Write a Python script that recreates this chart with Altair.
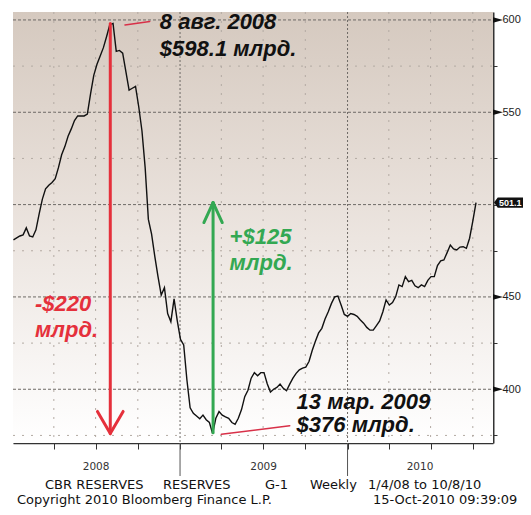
import altair as alt
import pandas as pd

# ---------------- data ----------------
start_friday = "2008-01-04"
week_index = list(range(145))
reserves_bn = [
    480.9, 482.0, 483.0, 483.6, 487.4, 483.0, 482.5, 486.3, 495.0, 503.0,
    508.5, 510.5, 512.0, 514.0, 520.0, 527.0, 531.4, 537.0, 541.0, 545.5,
    548.0, 548.0, 548.0, 549.0, 560.0, 570.0, 576.0, 580.5, 585.0, 591.0,
    597.5, 598.1, 583.0, 583.5, 582.0, 572.0, 562.0, 563.0, 564.0, 553.0,
    540.0, 520.0, 492.0, 484.0, 472.0, 461.0, 451.0, 455.0, 441.0, 436.6,
    449.0, 437.0, 427.0, 424.0, 405.0, 390.0, 387.0, 385.5, 384.0, 386.0,
    383.5, 382.0, 376.0, 384.3, 387.9, 386.0, 385.0, 384.3, 382.0, 381.0,
    384.3, 389.0, 396.0, 399.5, 406.0, 409.0, 407.3, 409.0, 409.0, 403.0,
    398.5, 400.0, 401.0, 402.8, 400.5, 399.2, 402.8, 406.0, 408.6, 410.5,
    411.5, 412.0, 415.0, 421.0, 426.0, 430.5, 433.0, 438.0, 442.0, 446.5,
    450.0, 450.5, 445.6, 440.5, 439.5, 441.0, 440.5, 439.5, 437.5, 435.8,
    433.5, 432.0, 432.0, 434.5, 437.0, 442.0, 448.4, 445.6, 447.0, 450.2,
    456.5, 455.6, 461.0, 458.3, 459.0, 456.0, 455.0, 456.5, 455.6, 459.0,
    461.0, 461.0, 467.0, 469.5, 470.0, 474.0, 478.1, 476.0, 475.4, 477.0,
    477.2, 476.3, 481.8, 491.0, 501.1,
]

year_names = ["2008", "2009", "2010"]
year_label_at = ["2008-07-02", "2009-07-02", "2010-06-08"]
year_starts = ["2009-01-01", "2010-01-01"]
quarter_starts = ["2008-04-01", "2008-07-01", "2008-10-01",
                  "2009-04-01", "2009-07-01", "2009-10-01",
                  "2010-04-01", "2010-07-01", "2010-10-01"]
grid_major = [400, 450, 500, 550, 600]
grid_minor = [375, 425, 475, 525, 575]
axis_marked = [400, 450, 550, 600]
last_value = [501.1]
last_label = ["501.1"]

# annotation segments (date, value) -> (date2, value2)
red_seg_from = [("2008-08-02", 598.1), ("2008-07-05", 388.0), ("2008-08-30", 388.0)]
red_seg_to = [("2008-08-02", 377.0), ("2008-08-02", 376.0), ("2008-08-02", 376.0)]
green_seg_from = [("2009-03-14", 376.5), ("2009-02-22", 490.3), ("2009-04-03", 490.3)]
green_seg_to = [("2009-03-14", 501.1), ("2009-03-14", 501.1), ("2009-03-14", 501.1)]
thin_seg_from = [("2008-09-03", 597.3), ("2009-04-01", 375.6)]
thin_seg_to = [("2008-10-27", 599.2), ("2009-08-28", 380.3)]

black_notes = ["8 авг. 2008", "$598.1 млрд.", "13 мар. 2009", "$376 млрд."]
black_note_at = [("2008-11-18", 598.9), ("2008-11-18", 584.3),
                 ("2009-09-12", 393.3), ("2009-09-12", 380.7)]
red_notes = ["-$220", "млрд."]
red_note_at = [("2008-02-20", 446.2), ("2008-02-20", 432.1)]
green_notes = ["+$125", "млрд."]
green_note_at = [("2009-04-19", 482.5), ("2009-04-19", 468.4)]

footer_texts = ["CBR RESERVES", "RESERVES", "G-1", "Weekly", "1/4/08 to 10/8/10",
                "Copyright 2010 Bloomberg Finance L.P.", "15-Oct-2010 09:39:09"]

# ---------------- helpers ----------------
W, H = 480, 431
RED = "#e5303b"
GREEN = "#33a852"


def ms(s):
    return int(pd.Timestamp(s).value // 10**6)


dates = (pd.Timestamp(start_friday)
         + pd.to_timedelta([7 * w for w in week_index], unit="D")).strftime("%Y-%m-%d")
df = pd.DataFrame({"date": list(dates), "value": reserves_bn})

x_scale = alt.Scale(domain=[ms("2008-01-03"), ms("2010-11-14")], nice=False)
y_scale = alt.Scale(domain=[370.9, 604.3], nice=False, zero=False)

x_axis = alt.Axis(values=[ms(q) for q in quarter_starts + year_starts], labels=False,
                  tickSize=6, tickColor="#333", domainColor="#333", domainWidth=1.5,
                  grid=False, title=None)
y_axis = alt.Axis(orient="right", values=grid_minor + grid_major,
                  labelExpr="(datum.value % 50 == 0 && datum.value != 500) ? datum.label : ''",
                  tickSize=4, labelPadding=5, domainColor="#333", domainWidth=2,
                  tickColor="#333", labelFont="Liberation Sans", labelFontSize=11,
                  labelColor="#222", grid=False, title=None)


def X(f):
    return alt.X(f + ":T", scale=x_scale, axis=x_axis, title=None)


def Y(f):
    return alt.Y(f + ":Q", scale=y_scale, axis=y_axis, title=None)


layers = []

# background gradient
layers.append(
    alt.Chart(pd.DataFrame({"k": [0]})).mark_rect(
        color=alt.LinearGradient(
            gradient="linear", x1=0, x2=0, y1=0, y2=1,
            stops=[alt.GradientStop(color="#d5c9bf", offset=0),
                   alt.GradientStop(color="#e9e1db", offset=0.45),
                   alt.GradientStop(color="#f7f4f2", offset=0.8),
                   alt.GradientStop(color="#ffffff", offset=1)]))
    .encode(x=alt.value(0), x2=alt.value(W), y=alt.value(0), y2=alt.value(H))
)

# horizontal grid
layers.append(alt.Chart(pd.DataFrame({"v": grid_minor})).mark_rule(
    color="#b3aaa3", strokeDash=[2, 7], strokeWidth=1)
    .encode(y=Y("v"), x=alt.value(0), x2=alt.value(W)))
layers.append(alt.Chart(pd.DataFrame({"v": grid_major})).mark_rule(
    color="#6e6a66", strokeDash=[3, 2], strokeWidth=1)
    .encode(y=Y("v"), x=alt.value(0), x2=alt.value(W)))
# vertical grid
layers.append(alt.Chart(pd.DataFrame({"d": quarter_starts})).mark_rule(
    color="#b3aaa3", strokeDash=[2, 7], strokeWidth=1)
    .encode(x=X("d"), y=alt.value(0), y2=alt.value(H)))
layers.append(alt.Chart(pd.DataFrame({"d": year_starts})).mark_rule(
    color="#6e6a66", strokeDash=[2, 2], strokeWidth=1)
    .encode(x=X("d"), y=alt.value(0), y2=alt.value(H)))
# long year ticks below axis
layers.append(alt.Chart(pd.DataFrame({"d": year_starts})).mark_rule(
    color="#555", strokeWidth=1)
    .encode(x=X("d"), y=alt.value(H), y2=alt.value(H + 33)))
# year labels
layers.append(alt.Chart(pd.DataFrame({"d": year_label_at, "t": year_names})).mark_text(
    font="DejaVu Sans", fontSize=10.5, color="#333", baseline="middle", align="center")
    .encode(x=X("d"), y=alt.value(H + 24), text="t:N"))

# data line
layers.append(alt.Chart(df).mark_line(color="#111", strokeWidth=1.4)
              .encode(x=X("date"), y=Y("value")))


def segs(frm, to):
    return pd.DataFrame({"d": [a[0] for a in frm], "v": [a[1] for a in frm],
                         "d2": [b[0] for b in to], "v2": [b[1] for b in to]})


def seg_layer(frm, to, color, width):
    return alt.Chart(segs(frm, to)).mark_rule(color=color, strokeWidth=width,
                                              strokeCap="round").encode(
        x=X("d"), y=Y("v"), x2=alt.X2("d2:T"), y2=alt.Y2("v2:Q"))


layers.append(seg_layer(red_seg_from, red_seg_to, RED, 3))
layers.append(seg_layer(green_seg_from, green_seg_to, GREEN, 3))
layers.append(seg_layer(thin_seg_from, thin_seg_to, "#d83048", 1.5))


def note_layer(texts, at, color):
    d = pd.DataFrame({"d": [a[0] for a in at], "v": [a[1] for a in at], "t": texts})
    return alt.Chart(d).mark_text(font="Liberation Sans", fontStyle="italic",
                                  fontWeight="bold", fontSize=22, color=color,
                                  align="left", baseline="middle").encode(
        x=X("d"), y=Y("v"), text="t:N")


layers.append(note_layer(black_notes, black_note_at, "#111"))
layers.append(note_layer(red_notes, red_note_at, RED))
layers.append(note_layer(green_notes, green_note_at, GREEN))

# right axis markers
layers.append(alt.Chart(pd.DataFrame({"v": axis_marked})).mark_point(
    shape="M-1,-0.55L1,0L-1,0.55Z", filled=True, color="#111", size=100,
    xOffset=5, opacity=1, strokeWidth=0)
    .encode(x=alt.value(W), y=Y("v")))
layers.append(alt.Chart(pd.DataFrame({"v": last_value})).mark_point(
    shape="M-1,0L-0.75,-0.34L1,-0.34L1,0.34L-0.75,0.34Z", filled=True, color="#111",
    size=900, xOffset=16, opacity=1, strokeWidth=0)
    .encode(x=alt.value(W), y=Y("v")))
layers.append(alt.Chart(pd.DataFrame({"v": last_value, "t": last_label})).mark_text(
    font="Liberation Sans", fontSize=9, fontWeight="bold", color="white",
    align="left", baseline="middle", dx=6)
    .encode(x=alt.value(W), y=Y("v"), text="t:N"))

# footer
footer_pos = [(32, 473), (150, 473), (252, 473), (297, 473), (355, 473),
              (4, 488), (360, 488)]
for txt, (px, py) in zip(footer_texts, footer_pos):
    layers.append(alt.Chart(pd.DataFrame({"t": [txt]})).mark_text(
        font="DejaVu Sans", fontSize=13, color="#111", align="left",
        baseline="middle").encode(x=alt.value(px), y=alt.value(py), text="t:N"))

chart = alt.layer(*layers).properties(
    width=W, height=H, autosize="none",
    padding={"left": 5, "top": 4, "right": 30, "bottom": 64},
).configure_view(stroke=None).configure(background="white")

chart.save("out.html", embed_options={"renderer": "svg", "actions": False})
